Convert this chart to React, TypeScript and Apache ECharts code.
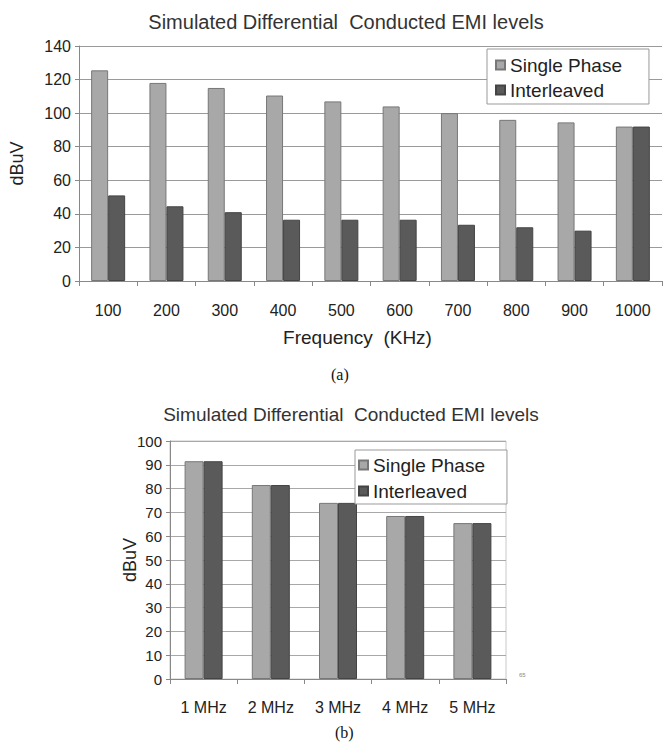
import React, { useEffect, useRef } from "react";
import * as echarts from "echarts";

const TITLE = "Simulated Differential  Conducted EMI levels";
const SERIES_NAMES = ["Single Phase", "Interleaved"];

const khzCategories = ["100", "200", "300", "400", "500", "600", "700", "800", "900", "1000"];
const khzSingle = [125.5, 118, 115, 110.5, 107, 104, 100, 96, 94.5, 92];
const khzInterleaved = [51, 44.5, 41, 36.5, 36.5, 36.5, 33.5, 32, 30, 92];
const khzTicks = { min: 0, max: 140, interval: 20 };

const mhzCategories = ["1 MHz", "2 MHz", "3 MHz", "4 MHz", "5 MHz"];
const mhzSingle = [91.5, 81.5, 74, 68.5, 65.5];
const mhzInterleaved = [91.5, 81.5, 74, 68.5, 65.5];
const mhzTicks = { min: 0, max: 100, interval: 10 };

const FONT = "'Liberation Sans', Arial, sans-serif";
const SERIF = "'Liberation Serif', 'Times New Roman', serif";
const SINGLE_COLOR = "#a8a8a8";
const INTER_COLOR = "#5a5a5a";

export default function App() {
  const ref = useRef<HTMLDivElement>(null);
  useEffect(() => {
    if (!ref.current) return;
    const chart = echarts.init(ref.current, null, { renderer: "svg" });
    const legendBase = {
      orient: "vertical" as const,
      icon: "rect",
      itemWidth: 9,
      itemHeight: 9,
      itemGap: 5,
      borderColor: "#999",
      borderWidth: 1,
      backgroundColor: "#fff",
      borderRadius: 0,
      z: 10,
      data: SERIES_NAMES,
      textStyle: { fontFamily: FONT, fontSize: 19, color: "#222", lineHeight: 20 },
    };
    const xAxisBase = (cats: string[], gridIndex: number) => ({
      type: "category" as const,
      gridIndex,
      data: cats,
      axisLine: { show: true, lineStyle: { color: "#888", width: 1 } },
      axisTick: { show: true, length: 5, alignWithLabel: false, lineStyle: { color: "#888" } },
      splitLine: { show: false },
    });
    chart.setOption({
      animation: false,
      backgroundColor: "#fff",
      title: [
        {
          text: TITLE,
          left: 341,
          top: 7,
          textAlign: "center",
          textStyle: { fontFamily: FONT, fontSize: 20, fontWeight: "normal", color: "#333" },
        },
        {
          text: TITLE,
          left: 346,
          top: 400,
          textAlign: "center",
          textStyle: { fontFamily: FONT, fontSize: 19, fontWeight: "normal", color: "#333" },
        },
      ],
      legend: [
        { ...legendBase, left: 487, top: 49, padding: [6, 27, 4, 8] },
        { ...legendBase, left: 355, top: 450, itemGap: 6, padding: [5, 22, 3, 3] },
      ],
      grid: [
        { left: 74, top: 46, width: 588, height: 235, containLabel: false },
        {
          left: 170,
          top: 441,
          width: 336,
          height: 238,
          containLabel: false,
          show: true,
          borderColor: "#c8c8c8",
          borderWidth: 1,
          backgroundColor: "transparent",
        },
      ],
      xAxis: [
        {
          ...xAxisBase(khzCategories, 0),
          name: "Frequency  (KHz)",
          nameLocation: "middle",
          nameGap: 47,
          nameMoveOverlap: false,
          nameTextStyle: { fontFamily: FONT, fontSize: 19, color: "#222", padding: [0, 26, 0, 0] },
          axisLabel: { fontFamily: FONT, fontSize: 16, color: "#222", margin: 21 },
        },
        {
          ...xAxisBase(mhzCategories, 1),
          axisLabel: { fontFamily: FONT, fontSize: 16, color: "#222", margin: 20 },
        },
      ],
      yAxis: [
        {
          type: "value",
          gridIndex: 0,
          ...khzTicks,
          name: "dBuV",
          nameLocation: "middle",
          nameRotate: 90,
          nameGap: 53,
          nameMoveOverlap: false,
          nameTextStyle: { fontFamily: FONT, fontSize: 18, color: "#222" },
          axisLine: { show: true, lineStyle: { color: "#888" } },
          axisTick: { show: true, length: 4, lineStyle: { color: "#888" } },
          axisLabel: { fontFamily: FONT, fontSize: 16, color: "#222", margin: 8 },
          splitLine: { show: true, lineStyle: { color: "#9a9a9a", width: 1 } },
        },
        {
          type: "value",
          gridIndex: 1,
          ...mhzTicks,
          name: "dBuV",
          nameLocation: "middle",
          nameRotate: 90,
          nameGap: 31,
          nameMoveOverlap: false,
          nameTextStyle: { fontFamily: FONT, fontSize: 18, color: "#222" },
          axisLine: { show: true, lineStyle: { color: "#888" } },
          axisTick: { show: true, length: 4, lineStyle: { color: "#888" } },
          axisLabel: { fontFamily: FONT, fontSize: 15, color: "#222", margin: 8 },
          splitLine: { show: true, lineStyle: { color: "#a8a8a8", width: 1 } },
        },
      ],
      series: [
        {
          name: SERIES_NAMES[0],
          type: "bar",
          xAxisIndex: 0,
          yAxisIndex: 0,
          data: khzSingle,
          barWidth: 17,
          barGap: "0%",
          itemStyle: { color: SINGLE_COLOR, borderColor: "#777", borderWidth: 1 },
        },
        {
          name: SERIES_NAMES[1],
          type: "bar",
          xAxisIndex: 0,
          yAxisIndex: 0,
          data: khzInterleaved,
          barWidth: 17,
          barGap: "0%",
          itemStyle: { color: INTER_COLOR, borderColor: "#444", borderWidth: 1 },
        },
        {
          name: SERIES_NAMES[0],
          type: "bar",
          xAxisIndex: 1,
          yAxisIndex: 1,
          data: mhzSingle,
          barWidth: 19,
          barGap: "0%",
          itemStyle: { color: SINGLE_COLOR, borderColor: "#777", borderWidth: 1 },
        },
        {
          name: SERIES_NAMES[1],
          type: "bar",
          xAxisIndex: 1,
          yAxisIndex: 1,
          data: mhzInterleaved,
          barWidth: 19,
          barGap: "0%",
          itemStyle: { color: INTER_COLOR, borderColor: "#444", borderWidth: 1 },
        },
      ],
      graphic: [
        {
          type: "text",
          left: 331,
          top: 366,
          style: { text: "(a)", font: `16px ${SERIF}`, fill: "#111" },
        },
        {
          type: "text",
          left: 335,
          top: 724,
          style: { text: "(b)", font: `16px ${SERIF}`, fill: "#111" },
        },
        {
          type: "text",
          left: 519,
          top: 672,
          style: { text: "65", font: `6px ${FONT}`, fill: "#888" },
        },
      ],
    });
    return () => chart.dispose();
  }, []);
  return (
    <div
      ref={ref}
      style={{ position: "fixed", left: 0, top: 0, width: 663, height: 749, background: "#fff" }}
    />
  );
}
